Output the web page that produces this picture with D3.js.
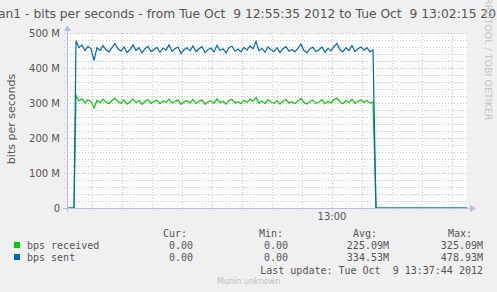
<!DOCTYPE html>
<html>
<head>
<meta charset="utf-8">
<script src="https://cdn.jsdelivr.net/npm/d3@7"></script>
<style>
	body { margin:0; background:#f0f0f0; }
	svg text { white-space: pre; }
</style>
</head>
<body>
<div id="chart"></div>
<script>
// seconds after 12:55:35
var	sampleOffsets	= [0, 7].concat(d3.range(9, 307, 3)).concat([309, 400]);
var	bpsReceived	= [0, 0,
	322,306,312,300,309,304,285,308,301,311,
	303,298,307,314,304,299,309,297,303,312,
	301,307,296,305,310,299,304,308,298,306,
	302,311,300,305,309,296,303,307,300,310,
	298,305,309,297,303,306,299,312,301,305,
	297,307,310,300,304,298,308,302,311,305,
	316,300,306,298,309,303,299,307,297,305,
	310,300,304,298,306,313,301,297,305,308,
	299,303,309,298,305,300,310,314,303,298,
	307,301,311,299,305,309,302,307,299,303,
	0, 0];
var	bpsSent		= [0, 0,
	478,458,466,450,462,455,422,458,450,464,
	452,446,458,470,455,448,460,444,452,466,
	450,458,443,455,462,447,453,459,445,457,
	451,466,448,455,460,442,452,458,449,463,
	447,455,461,444,452,457,446,465,450,455,
	443,458,462,448,454,446,459,451,463,455,
	476,449,456,445,460,452,447,458,444,455,
	461,448,453,446,457,468,450,444,455,459,
	447,452,460,445,456,449,462,470,452,446,
	458,450,464,447,455,460,451,458,446,452,
	0, 0];
var	seriesNames	= ["bps received", "bps sent"];
var	seriesColors	= ["#00cc00", "#0066b3"];
var	statCur		= ["0.00", "0.00"];
var	statMin		= ["0.00", "0.00"];
var	statAvg		= ["225.09M", "334.53M"];
var	statMax		= ["325.09M", "478.93M"];
var	yTickLabels	= ["0", "100 M", "200 M", "300 M", "400 M", "500 M"];
var	titleText	= "vlan1 - bits per seconds - from Tue Oct  9 12:55:35 2012 to Tue Oct  9 13:02:15 2012";

var	W = 497, H = 292,
	margin	= {left: 67, right: 30, top: 33, bottom: 84},
	start	= new Date(2012, 9, 9, 12, 55, 35),
	end	= new Date(2012, 9, 9, 13, 2, 15),
	x	= d3.scaleTime().domain([start, end]).range([margin.left, W - margin.right]),
	y	= d3.scaleLinear().domain([0, 500e6]).range([H - margin.bottom, margin.top]),
	axisCol	= "#b4bcec",
	fontCol	= "#555555";

var svg = d3.select("#chart").append("svg").attr("width", W).attr("height", H)
	.style("font-family", "'DejaVu Sans', sans-serif");
svg.append("rect").attr("width", W).attr("height", H).attr("fill", "#f0f0f0");
svg.append("rect").attr("x", x.range()[0]).attr("y", y.range()[1])
	.attr("width", x.range()[1] - x.range()[0]).attr("height", y.range()[0] - y.range()[1])
	.attr("fill", "#ffffff");

// grid
var	grid	= svg.append("g").attr("shape-rendering", "crispEdges");
var	minorX	= x.ticks(d3.timeSecond.every(30)),
	majorX	= x.ticks(d3.timeMinute.every(5)),
	minorY	= y.ticks(25),
	majorY	= y.ticks(5);
grid.selectAll(".gx").data(minorX).enter().append("line")
	.attr("x1", function(d) { return Math.round(x(d)) + 0.5; }).attr("x2", function(d) { return Math.round(x(d)) + 0.5; })
	.attr("y1", y.range()[1]).attr("y2", y.range()[0] + 3)
	.attr("stroke", function(d) { return d.getMinutes() % 5 == 0 && d.getSeconds() == 0 ? "#e8b0b0" : "#cccccc"; })
	.attr("stroke-dasharray", "1,2");
grid.selectAll(".gy").data(minorY).enter().append("line")
	.attr("x1", x.range()[0] - 3).attr("x2", x.range()[1])
	.attr("y1", function(d) { return Math.round(y(d)) + 0.5; }).attr("y2", function(d) { return Math.round(y(d)) + 0.5; })
	.attr("stroke", function(d) { return d % 100e6 == 0 ? "#e8b0b0" : "#cccccc"; })
	.attr("stroke-dasharray", "1,2");

// lines
var line = d3.line()
	.x(function(d, i) { return x(new Date(+start + sampleOffsets[i] * 1000)); })
	.y(function(d) { return y(d * 1e6); });
[bpsReceived, bpsSent].forEach(function(s, i) {
	svg.append("path").attr("d", line(s)).attr("fill", "none")
		.attr("stroke", seriesColors[i]).attr("stroke-width", 1.2);
});

// axes
var ax = svg.append("g").attr("fill", axisCol).attr("stroke", axisCol);
ax.append("line").attr("x1", x.range()[0] - 4).attr("x2", x.range()[1] + 4)
	.attr("y1", y.range()[0] + 0.5).attr("y2", y.range()[0] + 0.5);
ax.append("line").attr("x1", x.range()[0] + 0.5).attr("x2", x.range()[0] + 0.5)
	.attr("y1", y.range()[0] + 4).attr("y2", y.range()[1] - 4);
ax.append("path").attr("stroke", "none")
	.attr("d", "M" + (x.range()[1] + 9) + "," + (y.range()[0] + 0.5) + "l-6,-3.5v7z");
ax.append("path").attr("stroke", "none")
	.attr("d", "M" + (x.range()[0] + 0.5) + "," + (y.range()[1] - 8) + "l-3.5,6h7z");

// tick labels
svg.selectAll(".yl").data(majorY).enter().append("text")
	.attr("x", 60).attr("y", function(d) { return y(d) + 3.5; })
	.attr("text-anchor", "end").attr("font-size", 10).attr("fill", fontCol)
	.text(function(d, i) { return yTickLabels[i]; });
svg.selectAll(".xl").data(majorX).enter().append("text")
	.attr("x", function(d) { return x(d); }).attr("y", y.range()[0] + 12)
	.attr("text-anchor", "middle").attr("font-size", 10).attr("fill", fontCol)
	.text(d3.timeFormat("%H:%M"));

// titles (wider than the picture, cut at both sides as in the original)
svg.append("text").attr("x", W / 2 + 1).attr("y", 18).attr("text-anchor", "middle")
	.attr("font-size", 12.3).attr("fill", fontCol).text(titleText);
svg.append("text").attr("transform", "translate(15," + 119 + ") rotate(-90)")
	.attr("text-anchor", "middle").attr("font-size", 11).attr("fill", fontCol).text("bits per seconds");
svg.append("text").attr("transform", "translate(485,-2) rotate(90)")
	.attr("font-size", 9.5).attr("fill", "#c4c4c4").text("RRDTOOL / TOBI OETIKER");

// legend
var lg = svg.append("g").style("font-family", "'DejaVu Sans Mono', monospace")
	.attr("font-size", 10).attr("fill", fontCol);
lg.append("text").attr("x", 163).attr("y", 237).text("Cur:");
lg.append("text").attr("x", 259).attr("y", 237).text("Min:");
lg.append("text").attr("x", 353).attr("y", 237).text("Avg:");
lg.append("text").attr("x", 448).attr("y", 237).text("Max:");
seriesNames.forEach(function(n, i) {
	var ry = 249 + i * 12;
	lg.append("rect").attr("x", 14).attr("y", ry - 7).attr("width", 6).attr("height", 6)
		.attr("fill", seriesColors[i]);
	lg.append("text").attr("x", 27).attr("y", ry).text(n);
	lg.append("text").attr("x", 193).attr("y", ry).attr("text-anchor", "end").text(statCur[i]);
	lg.append("text").attr("x", 288).attr("y", ry).attr("text-anchor", "end").text(statMin[i]);
	lg.append("text").attr("x", 389).attr("y", ry).attr("text-anchor", "end").text(statAvg[i]);
	lg.append("text").attr("x", 483).attr("y", ry).attr("text-anchor", "end").text(statMax[i]);
});
lg.append("text").attr("x", 483).attr("y", 274).attr("text-anchor", "end")
	.text("Last update: Tue Oct  9 13:37:44 2012");
svg.append("text").attr("x", 217).attr("y", 284).attr("font-size", 8)
	.attr("fill", "#c0c0c0").text("Munin unknown");
</script>
</body>
</html>
